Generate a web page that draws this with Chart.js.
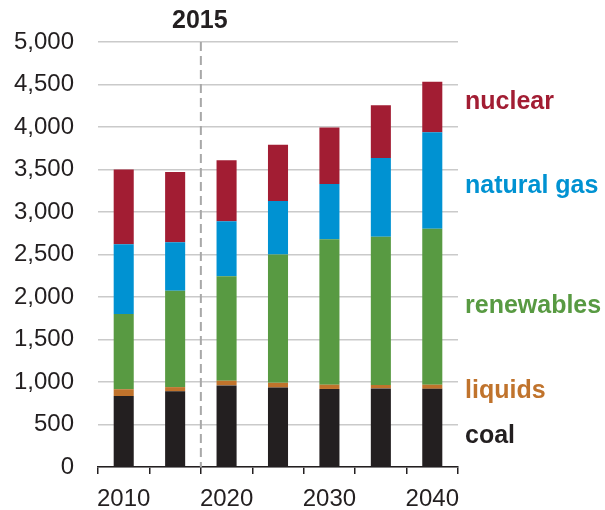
<!DOCTYPE html>
<html>
<head>
<meta charset="utf-8">
<script src="https://cdn.jsdelivr.net/npm/chart.js@4/dist/chart.umd.min.js"></script>
<style>
  html, body { margin: 0; padding: 0; background: #ffffff; }
  #wrap { width: 605px; height: 510px; position: relative; }
</style>
</head>
<body>
<div id="wrap"><canvas id="c" width="605" height="510"></canvas></div>
<script>
// Electricity generation by source (stacked), projection years
const years = ['2010', '2015', '2020', '2025', '2030', '2035', '2040'];
const baseYear = '2015';
const yTicks = [0, 500, 1000, 1500, 2000, 2500, 3000, 3500, 4000, 4500, 5000];

const coal       = [835, 890, 960, 935, 918, 925, 920];
const liquids    = [80, 50, 55, 55, 50, 40, 48];
const renewables = [886, 1135, 1230, 1510, 1710, 1745, 1835];
const naturalGas = [820, 570, 645, 630, 650, 925, 1135];
const nuclear    = [880, 825, 720, 660, 665, 620, 595];

const seriesNames = ['coal', 'liquids', 'renewables', 'natural gas', 'nuclear'];
const seriesColors = ['#231f20', '#c0732c', '#589a42', '#0092d2', '#a21d33'];
const seriesValues = [coal, liquids, renewables, naturalGas, nuclear];

const FONT = '"Liberation Sans", Arial, Helvetica, sans-serif';
const INK = '#231f20';

// Series names written beside the last bar, in the series colours
const sideLabels = {
  id: 'sideLabels',
  afterDraw(chart) {
    const ctx = chart.ctx;
    const x = chart.chartArea.right + 7;
    const baselines = { 'nuclear': 109, 'natural gas': 193, 'renewables': 313, 'liquids': 398, 'coal': 443 };
    ctx.save();
    ctx.font = 'bold 25px ' + FONT;
    ctx.textAlign = 'left';
    ctx.textBaseline = 'alphabetic';
    seriesNames.forEach((name, i) => {
      ctx.fillStyle = seriesColors[i];
      ctx.fillText(name, x, baselines[name]);
    });
    ctx.restore();
  }
};

// Dashed divider between history and projection, with the base-year caption
const baseYearMarker = {
  id: 'baseYearMarker',
  beforeDatasetsDraw(chart) {
    const xs = chart.scales.x;
    const { top, bottom } = chart.chartArea;
    const i = years.indexOf(baseYear);
    const x = (xs.getPixelForValue(i) + xs.getPixelForValue(i + 1)) / 2;
    const ctx = chart.ctx;
    ctx.save();
    ctx.strokeStyle = '#a8a8a8';
    ctx.lineWidth = 2;
    ctx.setLineDash([9, 5]);
    ctx.beginPath();
    ctx.moveTo(x, top);
    ctx.lineTo(x, bottom);
    ctx.stroke();
    ctx.setLineDash([]);
    ctx.fillStyle = INK;
    ctx.font = 'bold 25px ' + FONT;
    ctx.textAlign = 'center';
    ctx.textBaseline = 'alphabetic';
    ctx.fillText(baseYear, x - 1, 28);
    ctx.restore();
  }
};

new Chart(document.getElementById('c'), {
  type: 'bar',
  data: {
    labels: years,
    datasets: seriesValues.map((vals, i) => ({
      label: seriesNames[i],
      data: vals,
      backgroundColor: seriesColors[i],
      borderWidth: 0,
      barPercentage: 0.39,
      categoryPercentage: 1.0
    }))
  },
  options: {
    responsive: false,
    animation: false,
    layout: { padding: { left: 0, right: 147, top: 42, bottom: 0 } },
    plugins: {
      legend: { display: false },
      tooltip: { enabled: false }
    },
    scales: {
      x: {
        stacked: true,
        offset: true,
        border: { display: true, color: INK, width: 1.5 },
        grid: {
          offset: true,
          drawOnChartArea: false,
          drawTicks: true,
          tickLength: 7,
          color: INK,
          lineWidth: 1.5
        },
        ticks: {
          autoSkip: false,
          maxRotation: 0,
          padding: 11,
          color: INK,
          font: { family: FONT, size: 24 },
          callback: (v, i) => (i % 2 === 0 ? years[i] : '')
        },
        afterFit: (s) => { s.height = 43; }
      },
      y: {
        stacked: true,
        min: yTicks[0],
        max: yTicks[yTicks.length - 1],
        border: { display: false },
        grid: { color: '#cacaca', lineWidth: 1.5, drawTicks: false },
        afterBuildTicks: (s) => { s.ticks = yTicks.map(v => ({ value: v })); },
        ticks: {
          padding: 24,
          color: INK,
          font: { family: FONT, size: 24 },
          callback: (v) => v.toLocaleString('en-US')
        },
        afterFit: (s) => { s.width = 98; }
      }
    }
  },
  plugins: [baseYearMarker, sideLabels]
});
</script>
</body>
</html>
